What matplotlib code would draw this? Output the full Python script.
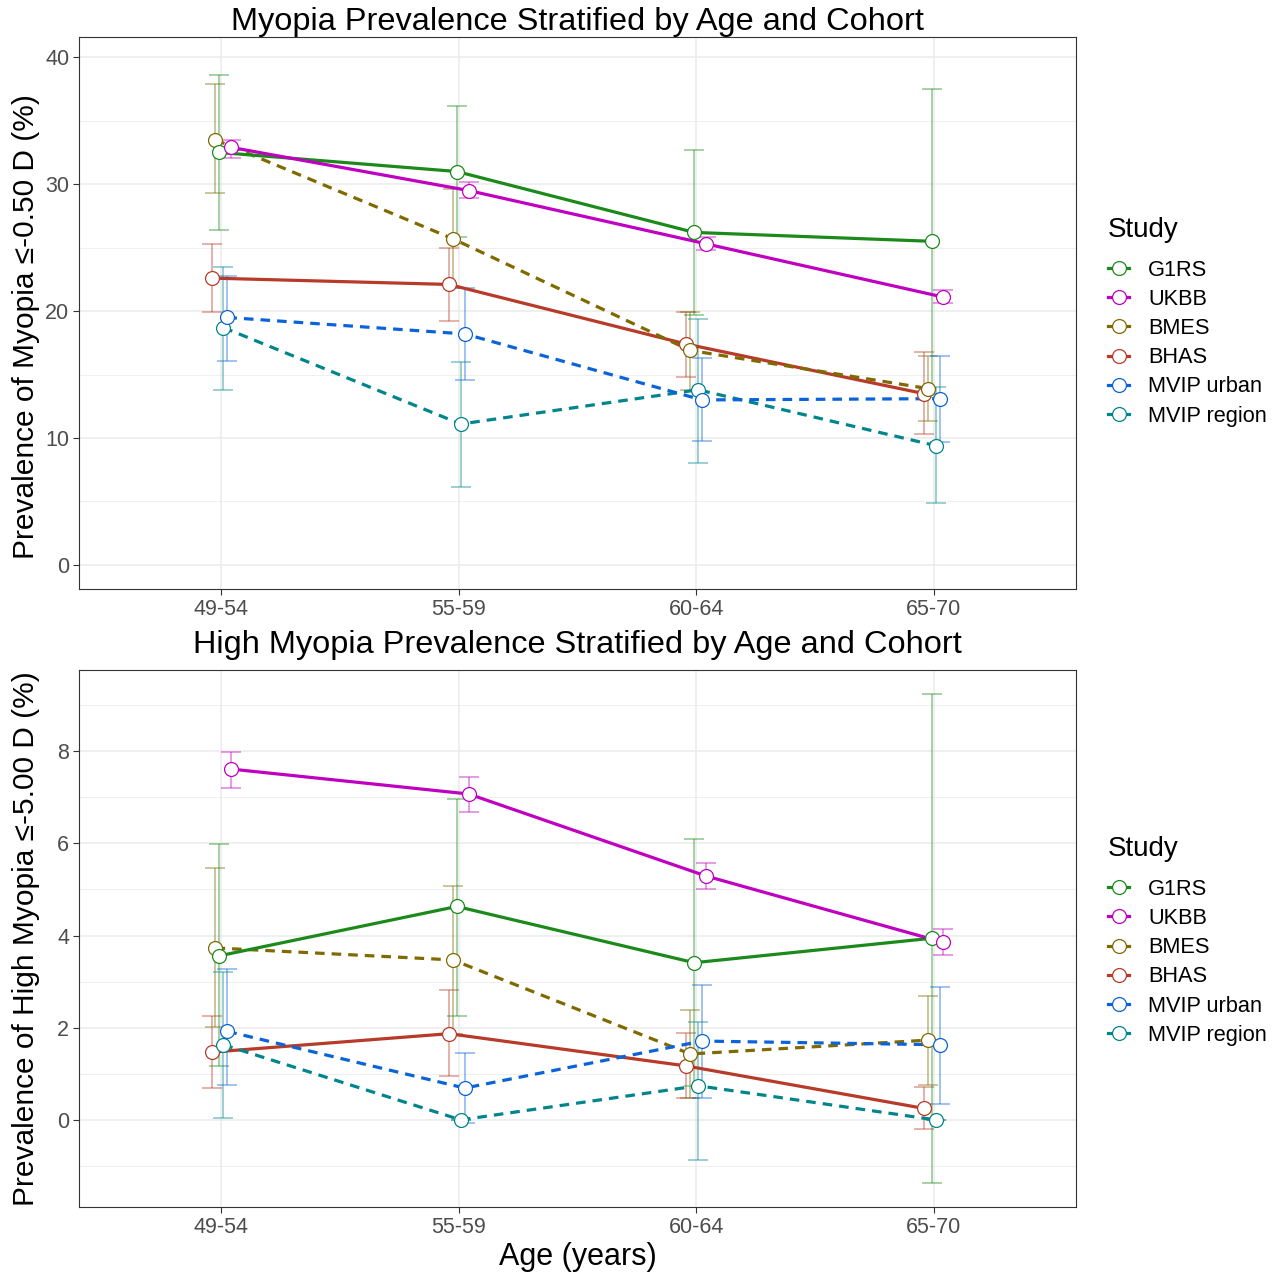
import matplotlib
matplotlib.use('Agg')
import matplotlib.pyplot as plt
from matplotlib.lines import Line2D
from matplotlib.ticker import MultipleLocator

plt.rcParams['font.family'] = ['Liberation Sans', 'DejaVu Sans']

age_groups = ['49-54', '55-59', '60-64', '65-70']
studies = ['G1RS', 'UKBB', 'BMES', 'BHAS', 'MVIP urban', 'MVIP region']
colors = ['#1B8A1B', '#C000C0', '#7F6A00', '#B83A28', '#0A63D8', '#00858A']
linestyles = ['solid', 'solid', 'dashed', 'solid', 'dashed', 'dashed']

# Myopia <= -0.50 D (%)
myopia_est = [
    [32.5, 31.0, 26.2, 25.5],
    [32.9, 29.5, 25.3, 21.1],
    [33.5, 25.7, 16.9, 13.9],
    [22.6, 22.1, 17.4, 13.5],
    [19.5, 18.2, 13.0, 13.1],
    [18.7, 11.1, 13.8, 9.4],
]
myopia_lo = [
    [26.4, 25.8, 19.7, 13.5],
    [32.1, 28.9, 24.8, 20.6],
    [29.3, 21.8, 13.8, 11.3],
    [19.9, 19.2, 14.8, 10.3],
    [16.1, 14.6, 9.8, 9.7],
    [13.8, 6.1, 8.0, 4.9],
]
myopia_hi = [
    [38.6, 36.2, 32.7, 37.5],
    [33.5, 30.2, 25.8, 21.7],
    [37.9, 29.6, 19.9, 16.5],
    [25.3, 25.0, 19.9, 16.8],
    [22.8, 21.8, 16.3, 16.5],
    [23.5, 16.0, 19.4, 14.0],
]

# High myopia <= -5.00 D (%)
high_est = [
    [3.56, 4.63, 3.41, 3.94],
    [7.61, 7.07, 5.29, 3.85],
    [3.73, 3.47, 1.43, 1.73],
    [1.47, 1.87, 1.17, 0.25],
    [1.92, 0.69, 1.71, 1.63],
    [1.63, 0.00, 0.74, 0.00],
]
high_lo = [
    [1.16, 2.26, 0.73, -1.37],
    [7.21, 6.69, 5.01, 3.58],
    [2.01, 1.86, 0.47, 0.76],
    [0.69, 0.95, 0.47, -0.20],
    [0.76, -0.06, 0.47, 0.35],
    [0.05, 0.00, -0.87, 0.00],
]
high_hi = [
    [5.98, 6.96, 6.09, 9.24],
    [7.99, 7.43, 5.57, 4.14],
    [5.47, 5.08, 2.39, 2.69],
    [2.26, 2.81, 1.88, 0.72],
    [3.27, 1.45, 2.93, 2.89],
    [3.20, 0.00, 2.13, 0.00],
]

titles = ['Myopia Prevalence Stratified by Age and Cohort',
          'High Myopia Prevalence Stratified by Age and Cohort']
ylabels = ['Prevalence of Myopia \u2264-0.50 D (%)',
           'Prevalence of High Myopia \u2264-5.00 D (%)']

W, H = 1277, 1275
fig = plt.figure(figsize=(W / 100, H / 100), dpi=100)
fig.patch.set_facecolor('white')

def fx(px):
    return px / W

def fy(py):
    return 1 - py / H

ax1 = fig.add_axes([fx(79), fy(589), fx(1076) - fx(79), fy(37) - fy(589)])
ax2 = fig.add_axes([fx(79), fy(1207), fx(1076) - fx(79), fy(670) - fy(1207)])

alpha_order = sorted(studies)
n = len(studies)
dodge = 0.1
step = dodge / n
offsets = {s: (alpha_order.index(s) - (n - 1) / 2) * step for s in studies}
xbase = list(range(1, len(age_groups) + 1))

def draw(ax, est, lo, hi, title, ylabel, ylim, major, minor, legend_top,
         title_pad, ylab_y):
    for s in alpha_order:
        i = studies.index(s)
        z = alpha_order.index(s)
        xs = [x + offsets[s] for x in xbase]
        e = est[i]
        yerr = [[e[k] - lo[i][k] for k in range(4)], [hi[i][k] - e[k] for k in range(4)]]
        ax.errorbar(xs, e, yerr=yerr, fmt='none', ecolor=colors[i], alpha=0.5,
                    elinewidth=1.1, capsize=7, capthick=1.1, zorder=2 + z * 0.01)
        ln, = ax.plot(xs, e, color=colors[i], lw=2.3, zorder=3 + z * 0.01,
                      solid_capstyle='butt', dash_capstyle='butt')
        if linestyles[i] == 'dashed':
            ln.set_dashes((3.0, 2.2))
        ax.plot(xs, e, linestyle='none', marker='o', ms=10, mfc='white',
                mec=colors[i], mew=0.9, zorder=4 + z * 0.01)
    ax.set_xlim(0.4, 4.6)
    ax.set_ylim(*ylim)
    ax.set_xticks(xbase)
    ax.set_xticklabels(age_groups)
    ax.yaxis.set_major_locator(MultipleLocator(major))
    ax.yaxis.set_minor_locator(MultipleLocator(minor))
    ax.grid(True, which='major', color='#EBEBEB', lw=1.1, zorder=0)
    ax.grid(True, which='minor', axis='y', color='#EBEBEB', lw=0.55, zorder=0)
    ax.set_axisbelow(True)
    ax.tick_params(axis='both', which='major', length=4, width=0.8, color='#333333',
                   labelcolor='#4D4D4D', labelsize=15.5, pad=3)
    ax.tick_params(axis='y', which='minor', length=0)
    for sp in ax.spines.values():
        sp.set_color('#333333')
        sp.set_linewidth(0.8)
    ax.set_title(title, fontsize=23.4, pad=title_pad, color='black')
    ax.set_ylabel(ylabel, fontsize=21.5, color='black')
    ax.yaxis.set_label_coords(-0.039, ylab_y)
    handles = [Line2D([0], [0], color=colors[i], lw=2.3, marker='o', ms=10,
                      mfc='white', mec=colors[i], mew=0.9) for i in range(n)]
    leg = ax.legend(handles, studies, title='Study', loc='upper left',
                    bbox_to_anchor=(1.023, legend_top), frameon=False,
                    fontsize=15.7, title_fontsize=20, handlelength=1.0,
                    handletextpad=0.85, labelspacing=0.377, borderaxespad=0)
    leg._legend_box.align = 'left'
    leg._legend_box.sep = 12

draw(ax1, myopia_est, myopia_lo, myopia_hi, titles[0], ylabels[0], (-1.9, 41.6),
     10, 5, 0.69, 1.5, 0.476)
draw(ax2, high_est, high_lo, high_hi, titles[1], ylabels[1], (-1.89, 9.76),
     2, 1, 0.707, 12, 0.5)
ax2.set_xlabel('Age (years)', fontsize=22, labelpad=3, color='black')

fig.savefig('out.png', dpi=100, facecolor='white')
